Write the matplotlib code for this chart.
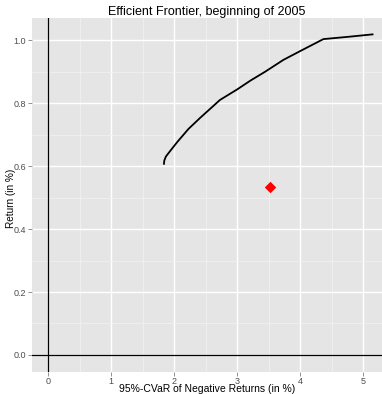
import matplotlib.pyplot as plt
import numpy as np

# frontier points (CVaR %, return %)
cvar = [1.84, 1.845, 1.87, 1.92, 2.05, 2.23, 2.42, 2.73, 3.0, 3.21, 3.45, 3.735, 4.05, 4.37, 4.75, 5.15]
ret = [0.607, 0.617, 0.630, 0.643, 0.676, 0.718, 0.754, 0.810, 0.843, 0.871, 0.900, 0.937, 0.970, 1.003, 1.010, 1.018]

# equal-weight portfolio
eq_cvar = [3.52]
eq_ret = [0.534]

xticks = [0, 1, 2, 3, 4, 5]
yticks = [0.0, 0.2, 0.4, 0.6, 0.8, 1.0]

plt.rcParams['font.family'] = ['Liberation Sans', 'DejaVu Sans']

fig = plt.figure(figsize=(3.82, 3.94), dpi=100)
ax = fig.add_axes([32 / 382, 22 / 394, 350 / 382, 354 / 394])
ax.set_facecolor('#e5e5e5')
for s in ax.spines.values():
    s.set_visible(False)

ax.set_xlim(-0.254, 5.30)
ax.set_ylim(-0.054, 1.070)

ax.set_xticks(xticks)
ax.set_yticks(yticks)
ax.set_yticklabels(['%.1f' % v for v in yticks])
ax.set_xticks(np.arange(0.5, 5.5, 1), minor=True)
ax.set_yticks(np.arange(0.1, 1.1, 0.2), minor=True)
ax.grid(True, which='major', color='white', lw=1.0)
ax.grid(True, which='minor', color='#f2f2f2', lw=0.5)
ax.set_axisbelow(True)
ax.tick_params(which='major', length=3, color='#7f7f7f', labelsize=6.5,
               labelcolor='#4d4d4d', pad=1.5, width=0.6)
ax.tick_params(axis='x', which='major', pad=0.5)
ax.tick_params(which='minor', length=0)

ax.axhline(0, color='black', lw=0.9)
ax.axvline(0, color='black', lw=0.9)

ax.plot(cvar, ret, color='black', lw=1.3)
ax.scatter(eq_cvar, eq_ret, marker='D', s=34, color='red', zorder=5, linewidths=0)

ax.set_title('Efficient Frontier, beginning of 2005', fontsize=9, pad=2)
ax.set_xlabel('95%-CVaR of Negative Returns (in %)', fontsize=7.5)
ax.xaxis.set_label_coords(0.5, -0.035)
ax.set_ylabel('Return (in %)', fontsize=7.2)
ax.yaxis.set_label_coords(-0.045, 0.49)

fig.savefig('out.png', dpi=100)
